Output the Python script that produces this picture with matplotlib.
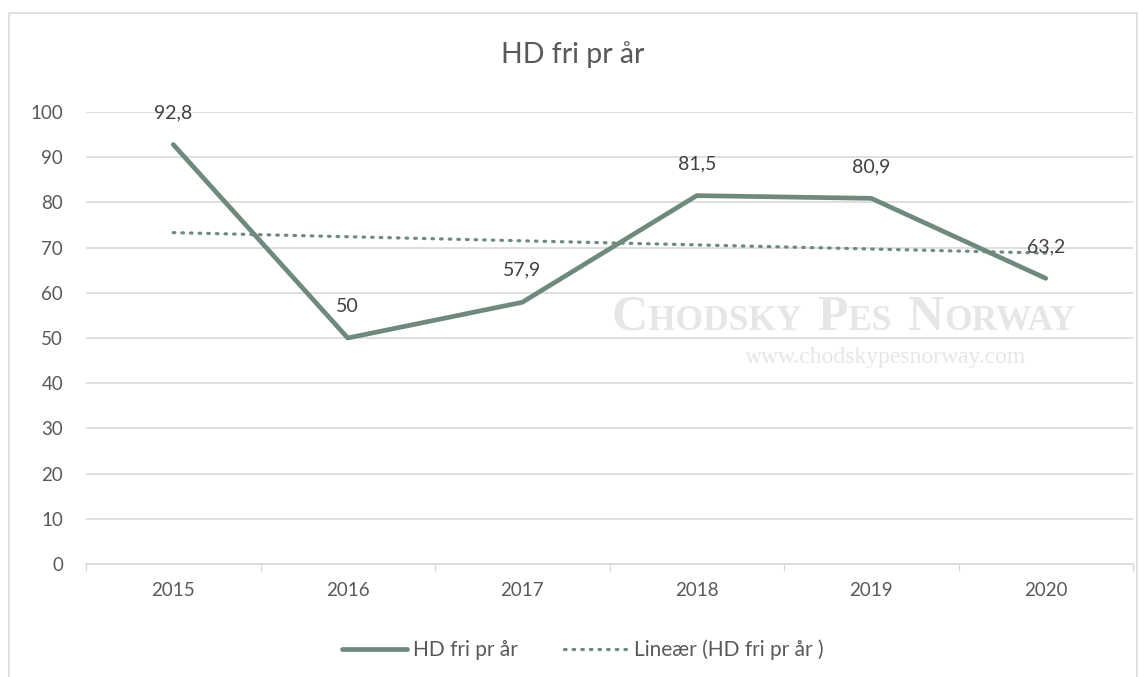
import numpy as np
import matplotlib
matplotlib.use("Agg")
import matplotlib.pyplot as plt
from matplotlib.patches import Rectangle

years = ["2015", "2016", "2017", "2018", "2019", "2020"]
hd_fri = [92.8, 50, 57.9, 81.5, 80.9, 63.2]
labels = ["92,8", "50", "57,9", "81,5", "80,9", "63,2"]

line_color = "#6F8A7C"
text_color = "#595959"
grid_color = "#D9D9D9"

plt.rcParams["font.family"] = ["Lato", "DejaVu Sans"]

fig = plt.figure(figsize=(11.47, 6.77), dpi=100)
fig.patches.append(Rectangle((9 / 1147, -0.05), 1128 / 1147, 1.05 - 13 / 677,
                             transform=fig.transFigure, fill=False,
                             edgecolor=grid_color, linewidth=1.2))

ax = fig.add_axes([86 / 1147, 1 - 564 / 677, 1047 / 1147, 452 / 677])
x = np.arange(len(years))

# trendline (linear fit of the series)
k, m = np.polyfit(x, hd_fri, 1)
ax.plot(x, k * x + m, color=line_color, linestyle=(0, (0.5, 2.2)),
        linewidth=2.3, dash_capstyle="round", label="Lineær (HD fri pr år )",
        zorder=3)
ax.plot(x, hd_fri, color=line_color, linewidth=3.4, solid_capstyle="round",
        solid_joinstyle="round", label="HD fri pr år", zorder=4, clip_on=False)

for xi, yi, lab in zip(x, hd_fri, labels):
    ax.annotate(lab, (xi, yi), xytext=(0, 23), textcoords="offset points",
                ha="center", va="center", fontsize=14, color="#404040",
                zorder=5)

ax.set_xlim(-0.5, len(years) - 0.5)
ax.set_ylim(0, 100)
ax.set_yticks(range(0, 101, 10))
ax.set_xticks(x)
ax.set_xticklabels(years)
ax.set_xticks(np.arange(-0.5, len(years), 1), minor=True)
ax.tick_params(axis="x", which="major", length=0, pad=13, labelsize=13.5,
               labelcolor=text_color)
ax.tick_params(axis="x", which="minor", length=5, color=grid_color, width=1)
ax.tick_params(axis="y", length=0, pad=16.5, labelsize=13.5, labelcolor=text_color)
ax.yaxis.grid(True, color=grid_color, linewidth=1.2)
ax.set_axisbelow(True)
for s in ["top", "right", "left"]:
    ax.spines[s].set_visible(False)
ax.spines["bottom"].set_color(grid_color)
ax.spines["bottom"].set_linewidth(1.2)

fig.text(573 / 1147, 1 - 55 / 677, "HD fri pr år", ha="center", va="center",
         fontsize=20.5, color=text_color)

# watermark in small caps
renderer = fig.canvas.get_renderer()
parts = [("C", 36), ("HODSKY ", 25.5), ("P", 36), ("ES ", 25.5), ("N", 36), ("ORWAY", 25.5)]
xpos = 612
for txt, size in parts:
    t = fig.text(xpos / 1147, 1 - 330 / 677, txt, fontsize=size,
                 family="Liberation Serif", weight="bold", color="#E6E6E6",
                 ha="left", va="baseline", zorder=0)
    xpos += t.get_window_extent(renderer).width
    if txt.endswith(" "):
        xpos += 8
fig.text(886 / 1147, 1 - 363 / 677, "www.chodskypesnorway.com", ha="center",
         va="baseline", fontsize=17, family="Liberation Serif", color="#E6E6E6",
         zorder=0)

handles, leg_labels = ax.get_legend_handles_labels()
fig.legend(handles[::-1], leg_labels[::-1], loc="center",
           bbox_to_anchor=(583 / 1147, 1 - 650 / 677), ncol=2, frameon=False,
           fontsize=15, labelcolor=text_color, handlelength=3.1,
           handletextpad=0.3, columnspacing=2.2)

fig.savefig("out.png", dpi=100)
